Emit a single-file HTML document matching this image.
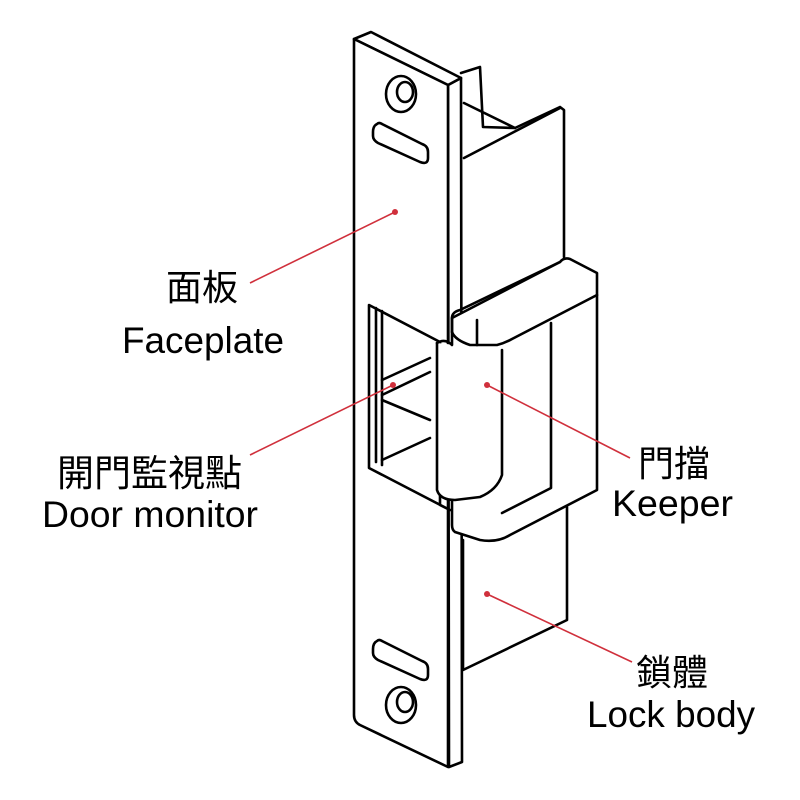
<!DOCTYPE html>
<html><head><meta charset="utf-8"><style>
html,body{margin:0;padding:0;background:#fff;width:800px;height:800px;overflow:hidden}
svg text{font-family:"Liberation Sans","Noto Sans CJK TC",sans-serif;fill:#000}
</style></head><body>
<svg width="800" height="800" viewBox="0 0 800 800" xmlns="http://www.w3.org/2000/svg">
<g fill="none" stroke="#000" stroke-width="2.6" stroke-linejoin="round" stroke-linecap="round">
<path d="M461,73 L480,67 L483,127 L515,128 L560,107 L564,110 L564,257" fill="#fff"/>
<path d="M464,103 L515,128"/>
<path d="M464,158 L560,108"/>
<path d="M463,540 L463,670 L567,620 L567,507" fill="#fff"/>
<path d="M448,85 L461,78 L462,762 L449,767 Z" fill="#fff"/>
<path d="M354,39 L371,32 L461,78 L448,85 Z" fill="#fff"/>
<path d="M354,39 L448,85 L448,767 L360,725 Q354,722 354,715 Z" fill="#fff"/>
<path d="M369,305 L440,342 L440,505 L450,510 L369,468 Z" fill="#fff"/>
<path d="M376,308 L376,462 M382,311 L382,465"/>
<path d="M382,395 L430,372 M382,380 L430,358 M382,400 L430,420 M382,460 L430,438"/>
<path d="M452,318 L560,262 Q564,257 570,259 L597,273 L597,490 L510,535 Q497,543 480,540 L455,532 Q452,530 452,525 Z" fill="#fff"/>
<path d="M452,318 Q452,312 460,310 L560,262"/>
<path d="M452,332 Q455,340 470,345 L497,345 Q505,343 512,339 L597,295"/>
<path d="M452,318 L452,332"/>
<path d="M477,320 L477,345"/>
<path d="M551,323 L551,488 L502,513"/>
<path d="M437,343 L437,490 Q440,500 455,500 L480,497 Q497,490 502,475 L502,350" fill="#fff"/>
<path d="M437,343 Q445,338 452,345"/>
<ellipse cx="401" cy="94" rx="15" ry="18"/>
<ellipse cx="405" cy="92" rx="8" ry="10"/>
<path d="M377,124 Q373,126 373,132 L373,136 Q373,140 378,143 L420,162 Q428,165 428,158 L428,152 Q428,146 422,144 L382,124 Q379,122 377,124 Z"/>
<path d="M377,641 Q373,643 373,649 L373,653 Q373,657 378,660 L420,679 Q428,682 428,675 L428,669 Q428,663 422,661 L382,641 Q379,639 377,641 Z"/>
<ellipse cx="401" cy="705" rx="15" ry="18"/>
<ellipse cx="405" cy="702" rx="8" ry="10"/>
</g>
<g stroke="#d0303c" stroke-width="1.6" fill="#d0303c">
<line x1="250" y1="283" x2="395" y2="212"/>
<line x1="250" y1="455" x2="393" y2="385"/>
<line x1="487" y1="385" x2="630" y2="458"/>
<line x1="487" y1="594" x2="632" y2="662"/>
<circle cx="395" cy="212" r="3" stroke="none"/>
<circle cx="393" cy="385" r="3" stroke="none"/>
<circle cx="487" cy="385" r="3" stroke="none"/>
<circle cx="487" cy="594" r="3" stroke="none"/>
</g>
<text x="166" y="300" font-size="36">面板</text>
<text x="122" y="353" font-size="37" textLength="162" lengthAdjust="spacingAndGlyphs">Faceplate</text>
<text x="57" y="486" font-size="37">開門監視點</text>
<text x="42" y="527" font-size="37" textLength="216" lengthAdjust="spacingAndGlyphs">Door monitor</text>
<text x="638" y="476" font-size="36">門擋</text>
<text x="612" y="516" font-size="37" textLength="121" lengthAdjust="spacingAndGlyphs">Keeper</text>
<text x="636" y="685" font-size="36">鎖體</text>
<text x="587" y="727" font-size="37" textLength="168" lengthAdjust="spacingAndGlyphs">Lock body</text>
</svg>
</body></html>
